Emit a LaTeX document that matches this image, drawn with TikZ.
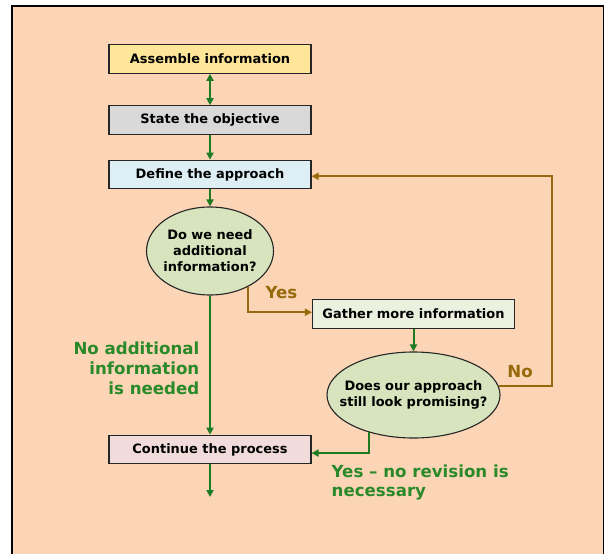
\documentclass[tikz,border=0pt]{standalone}
\usepackage{fontspec}
\setmainfont{DejaVu Sans}
\usetikzlibrary{arrows.meta,shapes.geometric}
\definecolor{peach}{HTML}{FBD5B5}
\definecolor{gline}{HTML}{1E7B22}
\definecolor{gtext}{HTML}{2A8A2A}
\definecolor{bline}{HTML}{966A0A}
\definecolor{cyel}{HTML}{FFE699}
\definecolor{cgray}{HTML}{D9D9D9}
\definecolor{cblue}{HTML}{DDEEF5}
\definecolor{cgreen}{HTML}{D7E4BD}
\definecolor{cgath}{HTML}{EBF1DE}
\definecolor{cpink}{HTML}{F2DCDB}
\tikzset{
  boxnode/.style={draw=black!85, line width=1.1bp, minimum width=202bp, minimum height=28.5bp, inner sep=0pt, font=\bfseries\fontsize{13}{15}\selectfont},
  ellnode/.style={ellipse, draw=black!85, line width=1.1bp, fill=cgreen, inner sep=0pt},
  elltext/.style={inner sep=0pt, align=center, font=\bfseries\fontsize{13}{16}\selectfont},
  garrow/.style={draw=gline, line width=2bp, -{Triangle[length=7bp,width=7bp]}},
  barrow/.style={draw=bline, line width=2bp, -{Triangle[length=7bp,width=7bp]}},
  glabel/.style={text=gtext, font=\bfseries\fontsize{16.7}{19.7}\selectfont, inner sep=0pt},
  blabel/.style={text=bline, font=\bfseries\fontsize{16.7}{19.7}\selectfont, inner sep=0pt}
}
\begin{document}
\begin{tikzpicture}[x=1bp,y=-1bp]
\useasboundingbox (0,0) rectangle (605,554);
\fill[white] (0,0) rectangle (605,554);
\filldraw[fill=peach, draw=black, line width=1.5bp] (12,6) rectangle (603.5,570);

\node[boxnode, fill=cyel] (a) at (210,59) {Assemble information};
\node[boxnode, fill=cgray] (b) at (210,120) {State the objective};
\node[boxnode, fill=cblue] (c) at (210,174.5) {Define the approach};
\node[ellnode, minimum width=127bp, minimum height=88bp] (e1) at (210,251) {};
\node[elltext] (e1t) at (e1.center) {Do we need\\additional\\information?};
\node[boxnode, fill=cgath] (g) at (413.5,314) {Gather more information};
\node[ellnode, minimum width=173bp, minimum height=86bp] (e2) at (413.5,395) {};
\node[elltext] (e2t) at (e2.center) {Does our approach\\still look promising?};
\node[boxnode, fill=cpink] (k) at (210,449.5) {Continue the process};

\coordinate (right) at (552,0);
\coordinate (fin) at (210,497);

\draw[garrow, {Triangle[length=7bp,width=7bp]}-{Triangle[length=7bp,width=7bp]}] (a) -- (b);
\draw[garrow] (b) -- (c);
\draw[garrow] (c) -- (e1);
\draw[garrow] (e1) -- (k);
\draw[garrow] (g) -- (e2);
\draw[garrow] (k) -- (fin);
\draw[barrow] (e1.-43) |- (g.179);
\draw[barrow] (e2.6) -| (c.-1 -| right) -- (c.-1);
\draw[garrow] (e2.220) |- (k.-2);

\node[blabel] (yes) at (281.5,293) {Yes};
\node[blabel] (no) at (520,371.5) {No};
\node[glabel, align=right, anchor=north east] (nolab) at (199.5,342) {No additional\\information\\is needed};
\node[glabel, align=left, anchor=north west] (yeslab) at (331.5,464.5) {Yes – no revision is\\necessary};
\end{tikzpicture}
\end{document}
